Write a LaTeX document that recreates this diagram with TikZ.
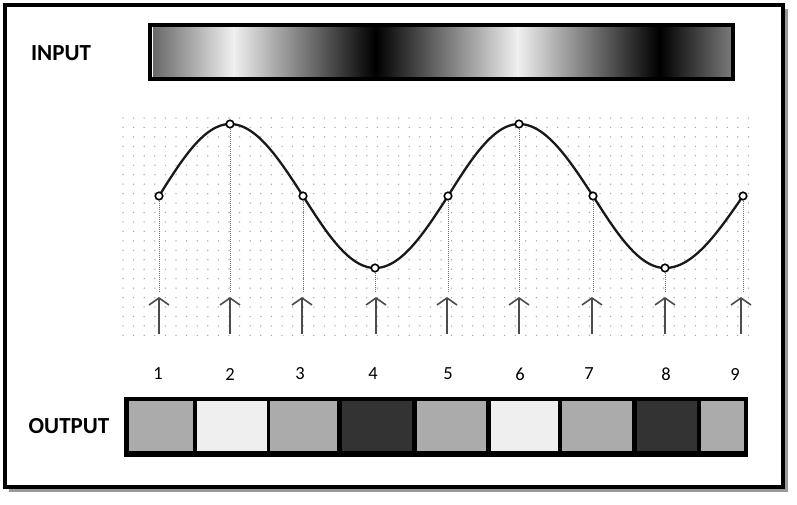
\documentclass[tikz,border=0pt]{standalone}
\usepackage{fontspec}
\setmainfont{Carlito}
\usetikzlibrary{arrows.meta}
\definecolor{cellmid}{HTML}{ABABAB}
\definecolor{celllight}{HTML}{EFEFEF}
\definecolor{celldark}{HTML}{333333}
\begin{document}
\begin{tikzpicture}[x=1pt,y=-1pt,
 curve/.style={line width=2.3pt, line cap=round, black!90},
 ptmark/.style={circle, draw=black, line width=1.6pt, fill=white, inner sep=0pt, minimum size=7.5pt},
 guide/.style={densely dotted, line width=1pt, black!55},
 uparrow/.style={line width=1.9pt, black!70, -{Straight Barb[length=7pt,width=20pt,line width=1.6pt]}},
 lbl/.style={font=\fontsize{23}{26}\selectfont\bfseries, inner sep=0pt},
 num/.style={font=\fontsize{18.5}{22}\selectfont, inner sep=0pt},
 griddot/.style={fill=black!35},
]
\useasboundingbox (0,0) rectangle (797,504);
\fill[white] (0,0) rectangle (797,504);
% frame with shadow
\fill[black!40] (9,9) rectangle (788,492);
\fill[white] (5,5) rectangle (783,487);
\draw[line width=4pt] (5,5) rectangle (783,487);

% input gradient bar (triangle wave of brightness)
\foreach \k in {0,...,289}{
  \pgfmathsetmacro\xx{153+2*\k}
  \pgfmathsetmacro\uu{mod(\xx-233+284,284)}
  \pgfmathsetmacro\gv{0.94*abs(\uu-142)/142}
  \definecolor{gc}{gray}{\gv}
  \fill[gc] (\xx,27) rectangle (\xx+2.3,77);
}
\draw[line width=4.5pt] (150,25) rectangle (733,79);
\node[lbl] (inlabel) at (61,53) {INPUT};

% dotted grid background
\foreach \gx in {0,...,59}{
  \foreach \gy in {0,...,23}{
    \fill[griddot] (123+10.6*\gx,118+9.45*\gy) circle (0.75pt);
  }
}

% sine curve, one quarter period per segment
\foreach \i/\xa/\xb in {1/159/230, 2/230/303, 3/303/375, 4/375/448, 5/448/519, 6/519/593, 7/593/665, 8/665/743}{
  \pgfmathsetmacro\ph{(\i-1)*90}
  \draw[curve] plot[domain=\xa:\xb, samples=30] (\x, {196-72*sin(\ph+90*(\x-\xa)/(\xb-\xa))});
}

% sample points, guides, arrows, numbers
\foreach \i/\px/\py/\ax/\nx in {1/159/196/159/158, 2/230/124/230/230, 3/303/196/302/300, 4/375/268/376/373, 5/448/196/447/448, 6/519/124/519/520, 7/593/196/592/589, 8/665/268/665/666, 9/743/196/741/735}{
  \coordinate (g\i) at (\px,292);
  \coordinate (a\i) at (\ax,297);
  \coordinate (b\i) at (\ax,334);
  \node[ptmark] (p\i) at (\px,\py) {};
  \draw[guide] (p\i.south) -- (g\i);
  \draw[uparrow] (b\i) -- (a\i);
  \node[num] (n\i) at (\nx,374) {\i};
}

% output bar
\fill[black] (124,397) rectangle (748,457);
\foreach \xa/\xb/\c in {129/193/cellmid, 197/267/celllight, 270/337/cellmid, 342/412/celldark, 417/486/cellmid, 491/558/celllight, 562/632/cellmid, 637/697/celldark, 701/744/cellmid}{
  \fill[\c] (\xa,401) rectangle (\xb,451);
}
\node[lbl] (outlabel) at (69,426) {OUTPUT};
\end{tikzpicture}
\end{document}
